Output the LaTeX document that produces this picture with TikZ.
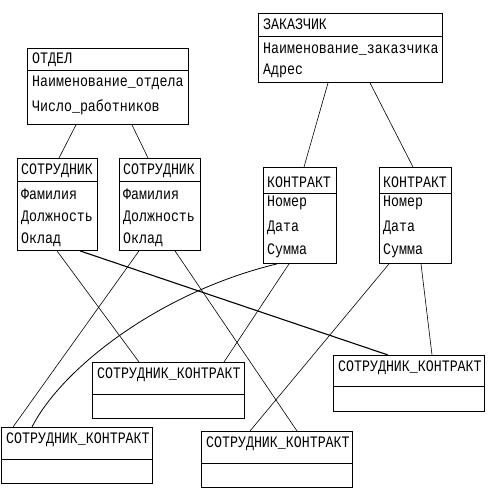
\documentclass[tikz,border=0pt]{standalone}
\usepackage{fontspec}
\newfontfamily\erfont[FakeStretch=0.83]{Liberation Mono}
\tikzset{
  erbox/.style={draw, line width=0.9pt, inner sep=0pt, anchor=north west},
  hdrline/.style={line width=0.9pt},
  txt/.style={anchor=west, inner sep=0pt, font=\erfont\fontsize{16}{19}\selectfont},
  link/.style={line width=0.6pt},
  thicklink/.style={line width=1.1pt}
}
\newcommand\erframe[6]{%
  \node[erbox, minimum width=#4pt, minimum height=#5pt] (#1) at (#2,#3) {};
  \draw[hdrline] ([yshift=-#6pt]#1.north west) -- ([yshift=-#6pt]#1.north east);
}
\newcommand\ertext[5]{%
  \node[txt] (#1) at ([xshift=#3pt,yshift=-#4pt]#2.north west) {#5};
}
\begin{document}
\begin{tikzpicture}[x=1pt,y=-1pt]
\useasboundingbox (0,0) rectangle (490,494);
\fill[white] (0,0) rectangle (490,494);

% ОТДЕЛ
\erframe{otdel}{27}{48}{161}{76}{22}
\ertext{otdelt}{otdel}{5}{12}{ОТДЕЛ}
\ertext{otdela}{otdel}{5}{35}{Наименование\_отдела}
\ertext{otdelb}{otdel}{5}{59}{Число\_работников}

% СОТРУДНИК 1
\erframe{empa}{17}{158}{80}{92}{23}
\ertext{empat}{empa}{4}{13}{СОТРУДНИК}
\ertext{empaa}{empa}{4}{36}{Фамилия}
\ertext{empab}{empa}{4}{60}{Должность}
\ertext{empac}{empa}{4}{82}{Оклад}

% СОТРУДНИК 2
\erframe{empb}{119}{158}{81}{92}{23}
\ertext{empbt}{empb}{4}{13}{СОТРУДНИК}
\ertext{empba}{empb}{4}{36}{Фамилия}
\ertext{empbb}{empb}{4}{60}{Должность}
\ertext{empbc}{empb}{4}{82}{Оклад}

% ЗАКАЗЧИК
\erframe{zak}{258}{13}{184}{69}{23}
\ertext{zakt}{zak}{5}{11}{ЗАКАЗЧИК}
\ertext{zaka}{zak}{5}{36}{Наименование\_заказчика}
\ertext{zakb}{zak}{5}{58}{Адрес}

% КОНТРАКТ 1
\erframe{kona}{263}{167}{73}{96}{26}
\ertext{konat}{kona}{4}{15}{КОНТРАКТ}
\ertext{konaa}{kona}{4}{36}{Номер}
\ertext{konab}{kona}{4}{61}{Дата}
\ertext{konac}{kona}{4}{84}{Сумма}

% КОНТРАКТ 2
\erframe{konb}{379}{167}{72}{96}{26}
\ertext{konbt}{konb}{4}{15}{КОНТРАКТ}
\ertext{konba}{konb}{4}{36}{Номер}
\ertext{konbb}{konb}{4}{61}{Дата}
\ertext{konbc}{konb}{4}{84}{Сумма}

% СОТРУДНИК_КОНТРАКТ boxes
\erframe{ska}{92}{362}{152}{56}{32}
\ertext{skat}{ska}{5}{13}{СОТРУДНИК\_КОНТРАКТ}
\erframe{skb}{1}{427}{151}{56}{32}
\ertext{skbt}{skb}{5}{13}{СОТРУДНИК\_КОНТРАКТ}
\erframe{skc}{201}{431}{151}{56}{32}
\ertext{skct}{skc}{5}{13}{СОТРУДНИК\_КОНТРАКТ}
\erframe{skd}{333}{355}{151}{56}{31}
\ertext{skdt}{skd}{5}{13}{СОТРУДНИК\_КОНТРАКТ}

% connectors
\draw[link] ([xshift=49pt]otdel.south west) -- ([xshift=42pt]empa.north west);
\draw[link] ([xshift=105pt]otdel.south west) -- ([xshift=29pt]empb.north west);
\draw[link] ([xshift=70pt]zak.south west) -- ([xshift=41pt]kona.north west);
\draw[link] ([xshift=112pt]zak.south west) -- ([xshift=34pt]konb.north west);

\draw[link] ([xshift=40pt]empa.south west) -- ([xshift=47pt]ska.north west);
\draw[thicklink] ([xshift=63pt]empa.south west) -- ([xshift=55pt]skd.north west);
\draw[link] ([xshift=20pt]empb.south west) -- ([xshift=12pt]skb.north west);
\draw[link] ([xshift=56pt]empb.south west) -- ([xshift=96pt]skc.north west);

\draw[link, line width=0.8pt] ([xshift=14pt]kona.south west) .. controls (160,292) and (62,368) .. ([xshift=31pt]skb.north west);
\draw[link] ([xshift=26pt]kona.south west) -- ([xshift=132pt]ska.north west);
\draw[link] ([xshift=10pt]konb.south west) -- ([xshift=49pt]skc.north west);
\draw[link] ([xshift=42pt]konb.south west) -- ([xshift=99pt]skd.north west);
\end{tikzpicture}
\end{document}
